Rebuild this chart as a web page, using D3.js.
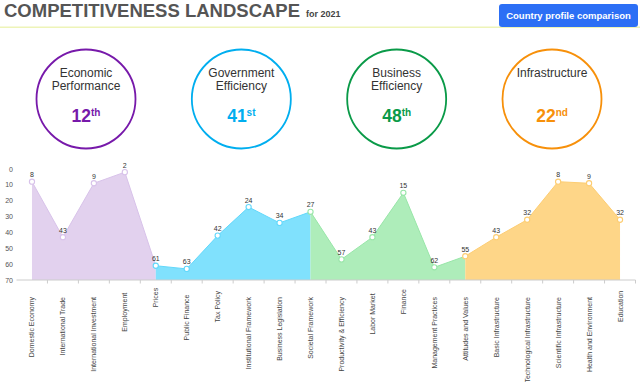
<!DOCTYPE html>
<html><head><meta charset="utf-8">
<script src="https://cdn.jsdelivr.net/npm/d3@7"></script>
<style>body{margin:0;background:#fff;font-family:"Liberation Sans",Arial,sans-serif}</style>
</head><body><svg id="c" width="640" height="382"></svg>
<script>
const categories = ["Domestic Economy","International Trade","International Investment","Employment","Prices",
"Public Finance","Tax Policy","Institutional Framework","Business Legislation","Societal Framework",
"Productivity & Efficiency","Labor Market","Finance","Management Practices","Attitudes and Values",
"Basic Infrastructure","Technological Infrastructure","Scientific Infrastructure","Health and Environment","Education"];
const economicPerformance = [8,43,9,2,61];
const governmentEfficiency = [63,42,24,34,27];
const businessEfficiency = [57,43,15,62,55];
const infrastructure = [43,32,8,9,32];
const pillarNames = [["Economic","Performance"],["Government","Efficiency"],["Business","Efficiency"],["Infrastructure"]];
const pillarRanks = ["12","41","48","22"];
const pillarSuffix = ["th","st","th","nd"];
const yTicks = [0,10,20,30,40,50,60,70];

const pillarColors = ["#7719aa","#00aeef","#0a9a48","#f7900a"];
const fillColors = ["#e2d1ee","#80e1fd","#aeedba","#fed688"];
const strokeColors = ["#d8c2ea","#62d8fb","#98e6a8","#fdcd72"];

const svg = d3.select("#c");
const series = [economicPerformance, governmentEfficiency, businessEfficiency, infrastructure];
const all = series.flat();

// header
svg.append("text").attr("x",4).attr("y",17).attr("font-size",18.5).attr("font-weight","bold")
  .attr("fill","#555").text("COMPETITIVENESS LANDSCAPE")
  .append("tspan").attr("font-size",9).attr("dx",6).attr("fill","#444").text("for 2021");
svg.append("rect").attr("x",0).attr("y",26.5).attr("width",640).attr("height",1.5).attr("fill","#eef4b8");
svg.append("rect").attr("x",499).attr("y",4).attr("width",139).attr("height",23).attr("rx",3).attr("fill","#2c6ff5");
svg.append("text").attr("x",568.5).attr("y",19).attr("text-anchor","middle").attr("font-size",9.5)
  .attr("font-weight","bold").attr("fill","#fff").text("Country profile comparison");

// circles
const cx = d3.scalePoint().domain(d3.range(4)).range([86,552]);
const g = svg.selectAll("g.pillar").data(d3.range(4)).join("g").attr("class","pillar")
  .attr("transform",i=>`translate(${cx(i)},99)`);
g.append("circle").attr("r",49.5).attr("fill","none").attr("stroke",i=>pillarColors[i]).attr("stroke-width",1.8);
g.each(function(i){
  const el = d3.select(this);
  pillarNames[i].forEach((t,k)=>{
    el.append("text").attr("y",-22+k*12.5).attr("text-anchor","middle").attr("font-size",12)
      .attr("fill","#333").text(t);
  });
  const tx = el.append("text").attr("y",23).attr("text-anchor","middle").attr("font-weight","bold")
    .attr("fill",pillarColors[i]);
  tx.append("tspan").attr("font-size",17.5).text(pillarRanks[i]);
  tx.append("tspan").attr("font-size",10).attr("dy",-6).text(pillarSuffix[i]);
});

// chart
const x = d3.scaleBand().domain(categories).range([16.5,635.5]);
const xc = c => x(c) + x.bandwidth()/2;
const y = d3.scaleLinear().domain([0,70]).range([169,280]);

// y tick labels
svg.append("g").selectAll("text").data(yTicks).join("text")
  .attr("x",13).attr("y",d=>y(d)+2.5).attr("text-anchor","end").attr("font-size",7).attr("fill","#555").text(d=>d);

// areas: each pillar starts from the previous pillar's last point
const area = d3.area().x(d=>xc(d.c)).y0(y(70)).y1(d=>y(d.v));
const line = d3.line().x(d=>xc(d.c)).y(d=>y(d.v));
series.forEach((vals,s)=>{
  const pts = vals.map((v,k)=>({c:categories[s*5+k], v}));
  if (s>0) pts.unshift({c:categories[s*5-1], v:all[s*5-1]});
  svg.append("path").datum(pts).attr("d",area).attr("fill",fillColors[s]);
  svg.append("path").datum(pts).attr("d",line).attr("fill","none").attr("stroke",strokeColors[s]).attr("stroke-width",1);
});

// x axis
const xAxis = svg.append("g").attr("transform",`translate(0,${y(70)})`);
xAxis.append("line").attr("x1",16.5).attr("x2",635.5).attr("stroke","#ccc");
xAxis.selectAll("line.t").data(categories.slice(1)).join("line").attr("class","t")
  .attr("x1",d=>x(d)).attr("x2",d=>x(d)).attr("y1",0).attr("y2",3.5).attr("stroke","#ccc");
xAxis.append("line").attr("x1",635.5).attr("x2",635.5).attr("y1",0).attr("y2",3.5).attr("stroke","#ccc");
const lbl = svg.append("g").selectAll("text").data(categories).join("text")
  .attr("text-anchor","end").attr("font-size",7).attr("fill","#444").text(d=>d);
lbl.each(function(d){
  const len = this.getComputedTextLength();
  const top = Math.min(297, 283 + 0.25*len);
  d3.select(this).attr("transform",`translate(${xc(d)+2.5},${top}) rotate(-90)`);
});

// markers and value labels
const pts = categories.map((c,i)=>({c, v:all[i], s:Math.min(3,Math.floor(i/5)), i}));
const order = pts.slice().sort((a,b)=>a.s-b.s);
svg.append("g").selectAll("circle").data(order).join("circle")
  .attr("cx",d=>xc(d.c)).attr("cy",d=>y(d.v)).attr("r",2.6)
  .attr("fill","#fff").attr("stroke",d=>{
    const s = (d.i%5===4 && d.s<3) ? d.s+1 : d.s; return strokeColors[s];})
  .attr("stroke-width",1.1);
svg.append("g").selectAll("text").data(pts).join("text")
  .attr("x",d=>xc(d.c)).attr("y",d=>y(d.v)-4.5).attr("text-anchor","middle")
  .attr("font-size",7).attr("fill","#333").text(d=>d.v);
</script></body></html>
